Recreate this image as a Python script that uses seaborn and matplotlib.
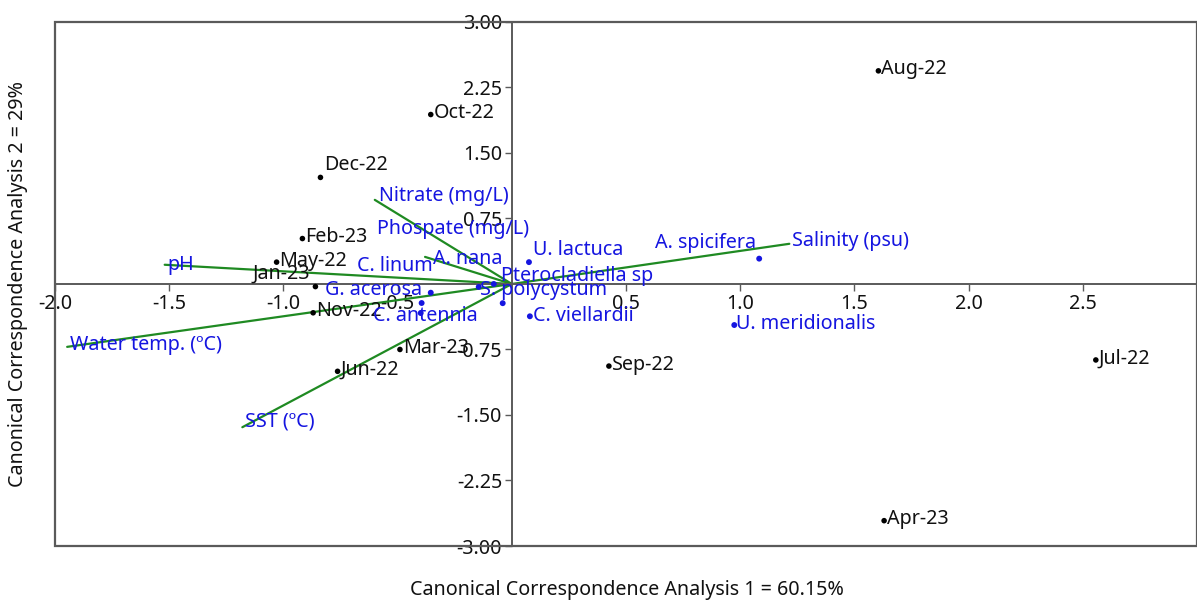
import numpy as np
import pandas as pd
import matplotlib as mpl
import matplotlib.pyplot as plt
import seaborn as sns
from matplotlib.patches import Rectangle

# sampling months (site scores)
sites = ["Aug-22", "Oct-22", "Dec-22", "Feb-23", "May-22", "Jan-23",
         "Nov-22", "Mar-23", "Jun-22", "Sep-22", "Jul-22", "Apr-23"]
site_x = [1.605, -0.355, -0.838, -0.917, -1.03, -0.86,
          -0.87, -0.49, -0.763, 0.425, 2.557, 1.63]
site_y = [2.44, 1.94, 1.22, 0.52, 0.25, -0.03,
          -0.33, -0.75, -1.0, -0.94, -0.87, -2.71]

# species scores
species = ["U. lactuca", "A. spicifera", "U. meridionalis", "C. viellardii",
           "G. acerosa", "C. antennia", "C. linum", "S. polycystum",
           "Pterocladiella sp", "A. nana"]
sp_x = [0.075, 1.083, 0.974, 0.079, -0.355, -0.399, -0.395, -0.145, -0.079, -0.04]
sp_y = [0.25, 0.29, -0.47, -0.37, -0.10, -0.333, -0.218, -0.034, 0.0, -0.22]

# environmental vectors
env = ["Nitrate (mg/L)", "Phospate (mg/L)", "pH", "Water temp. (ºC)",
       "SST (ºC)", "Salinity (psu)"]
env_x = [-0.60, -0.38, -1.52, -1.947, -1.18, 1.215]
env_y = [0.963, 0.31, 0.22, -0.72, -1.64, 0.46]

sns.set_style("white")
plt.rcParams['font.family'] = ['Noto Sans', 'DejaVu Sans']

site_df = pd.DataFrame({"x": site_x, "y": site_y, "name": sites})
sp_df = pd.DataFrame({"x": sp_x, "y": sp_y, "name": species})

fig = plt.figure(figsize=(11.97, 6.01), dpi=100)
ax = fig.add_axes([0.046, 0.0915, 0.954, 0.872])

green = "#1f8a22"
blue = "#1515e0"
fs = 14.2

for name, ex, ey in zip(env, env_x, env_y):
    ax.plot([0, ex], [0, ey], color=green, lw=1.6, zorder=2)

sns.scatterplot(data=site_df, x="x", y="y", color="black", s=16,
                edgecolor="none", ax=ax, zorder=3)
sns.scatterplot(data=sp_df, x="x", y="y", color=blue, s=18,
                edgecolor="none", ax=ax, zorder=3)

# label offsets in points (dx, dy, ha)
site_off = {"Dec-22": (3, 9, "left"), "Jan-23": (-4, 9, "right")}
for r in site_df.itertuples():
    dx, dy, ha = site_off.get(r.name, (2, 1, "left"))
    ax.annotate(r.name, (r.x, r.y), xytext=(dx, dy), textcoords="offset points",
                ha=ha, va="center", fontsize=fs, color="#111111", zorder=4)

sp_off = {"U. lactuca": (3, 9, "left"), "A. spicifera": (-2, 11, "right"),
          "U. meridionalis": (1, 1, "left"), "C. viellardii": (2, 0, "left"),
          "G. acerosa": (-6, 2, "right"), "C. antennia": (3, -2, "center"),
          "C. linum": (8, 27, "right"), "S. polycystum": (1, -2, "left"),
          "Pterocladiella sp": (5, 6, "left"), "A. nana": (0, 32, "right")}
for r in sp_df.itertuples():
    dx, dy, ha = sp_off[r.name]
    ax.annotate(r.name, (r.x, r.y), xytext=(dx, dy), textcoords="offset points",
                ha=ha, va="center", fontsize=fs, color=blue, zorder=4)

env_off = {"Nitrate (mg/L)": (3, 3, "left"), "Phospate (mg/L)": (20, 20, "center"),
           "pH": (2, 0, "left"), "Water temp. (ºC)": (2, 1, "left"),
           "SST (ºC)": (2, 4, "left"), "Salinity (psu)": (2, 2, "left")}
for name, ex, ey in zip(env, env_x, env_y):
    dx, dy, ha = env_off[name]
    ax.annotate(name, (ex, ey), xytext=(dx, dy), textcoords="offset points",
                ha=ha, va="center", fontsize=fs, color=blue, zorder=4)

ax.set_xlim(-2.0, 3.0)
ax.set_ylim(-3.0, 3.0)

xt = [-2.0, -1.5, -1.0, -0.5, 0.5, 1.0, 1.5, 2.0, 2.5]
yt = [3.0, 2.25, 1.5, 0.75, -0.75, -1.5, -2.25, -3.0]
ax.set_xticks(xt)
ax.set_xticklabels([f"{v:.1f}" for v in xt])
ax.set_yticks(yt)
ax.set_yticklabels([f"{v:.2f}" for v in yt])

axis_col = "#5a5a5a"
for s in ["top", "right"]:
    ax.spines[s].set_visible(False)
ax.spines["left"].set_position(("data", 0))
ax.spines["bottom"].set_position(("data", 0))
for s in ["left", "bottom"]:
    ax.spines[s].set_color(axis_col)
    ax.spines[s].set_linewidth(1.4)
ax.add_patch(Rectangle((0, 0), 1, 1, transform=ax.transAxes, fill=False,
                       ec=axis_col, lw=1.6, clip_on=False, zorder=5))
ax.tick_params(axis="both", direction="out", length=5, width=1, color=axis_col,
               labelsize=fs, labelcolor="#111111", bottom=True, left=True, pad=2)

ax.set_xlabel("")
ax.set_ylabel("")
fig.text(0.524, 0.018, "Canonical Correspondence Analysis 1 = 60.15%",
         ha="center", va="center", fontsize=fs, color="#111111")
fig.text(0.015, 0.527, "Canonical Correspondence Analysis 2 = 29%",
         ha="center", va="center", rotation=90, fontsize=fs, color="#111111")

fig.savefig("out.png", dpi=100)
